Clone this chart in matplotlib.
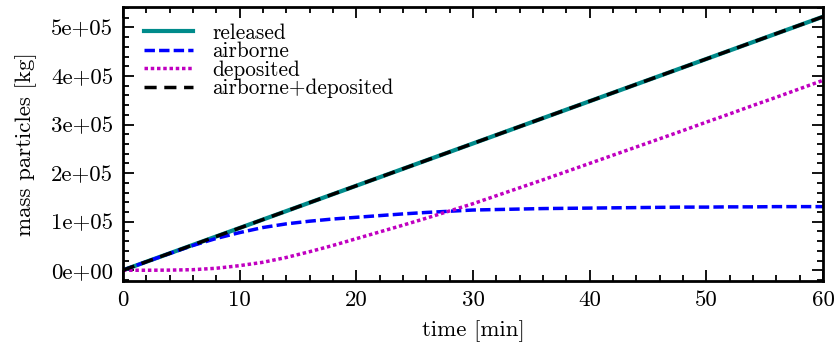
import matplotlib
matplotlib.use('Agg')
import matplotlib.pyplot as plt
from matplotlib.ticker import MultipleLocator, FuncFormatter

plt.rcParams['font.family'] = 'serif'
plt.rcParams['font.serif'] = ['cmr10', 'DejaVu Serif']
plt.rcParams['axes.formatter.use_mathtext'] = True

# time [min]
time = [0, 2, 4, 6, 8, 10, 12, 14, 16, 18, 20, 22, 24, 26, 28, 30,
        32, 34, 36, 38, 40, 42, 44, 46, 48, 50, 52, 54, 56, 58, 60]

# mass [kg]
released = [0, 17400, 34800, 52200, 69600, 87000, 104400, 121800, 139200,
            156600, 174000, 191400, 208800, 226200, 243600, 261000, 278400,
            295800, 313200, 330600, 348000, 365400, 382800, 400200, 417600,
            435000, 452400, 469800, 487200, 504600, 522000]
airborne = [0, 17400, 34500, 51000, 65500, 77500, 88000, 95500, 101000,
            105500, 109000, 112500, 116000, 119000, 121500, 124000, 125000,
            126000, 127000, 127500, 128000, 128500, 129000, 129500, 130000,
            130000, 130500, 130500, 131000, 131000, 131000]
deposited = [0, 0, 300, 1200, 4100, 9500, 16400, 26300, 38200, 51100,
             65000, 78900, 92800, 107200, 122100, 137000, 153400, 169800,
             186200, 203100, 220000, 236900, 253800, 270700, 287600, 305000,
             321900, 339300, 356200, 373600, 391000]
total = [a + d for a, d in zip(airborne, deposited)]

fig = plt.figure(figsize=(8.36, 3.49), dpi=100)
ax = fig.add_axes([0.147, 0.195, 0.8375, 0.785])

ax.plot(time, released, color='#008b8b', lw=3, ls='-', label='released')
ax.plot(time, airborne, color='#0000ff', lw=2.5, ls=(0, (3, 1.2)), label='airborne')
ax.plot(time, deposited, color='#c000c0', lw=2.5, ls=(0, (1, 0.8)), label='deposited')
ax.plot(time, total, color='black', lw=2.5, ls=(0, (3.5, 2.2)), label='airborne+deposited')

ax.set_xlim(0, 60)
ax.set_ylim(-22000, 542000)
ax.xaxis.set_major_locator(MultipleLocator(10))
ax.xaxis.set_minor_locator(MultipleLocator(2))
ax.yaxis.set_major_locator(MultipleLocator(100000))
ax.yaxis.set_minor_locator(MultipleLocator(20000))
ax.yaxis.set_major_formatter(FuncFormatter(lambda v, p: '%.0e' % v))
ax.xaxis.set_major_formatter(FuncFormatter(lambda v, p: '%d' % v))

ax.tick_params(which='both', direction='in', top=True, right=True, labelsize=16.5, width=1.3)
ax.tick_params(which='major', length=8, pad=7)
ax.tick_params(which='minor', length=4)
for s in ax.spines.values():
    s.set_linewidth(2)

ax.set_xlabel('time [min]', fontsize=16.5, labelpad=7)
ax.set_ylabel('mass particles [kg]', fontsize=16.5, labelpad=10)

ax.legend(loc='upper left', bbox_to_anchor=(0, 1.018), frameon=False, fontsize=15.3,
          handlelength=2.3, handletextpad=0.9, labelspacing=-0.05, borderaxespad=0.6)

fig.savefig('out.png', dpi=100)
